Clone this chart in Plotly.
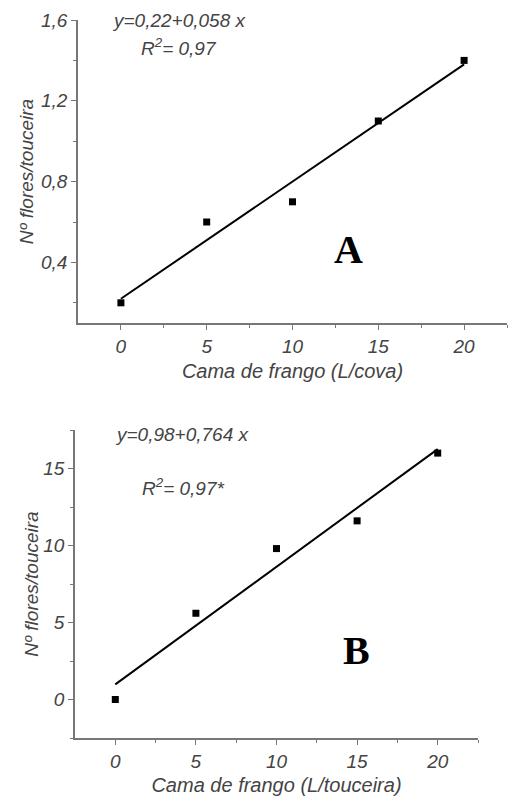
import plotly.graph_objects as go

# Data
doses = [0, 5, 10, 15, 20]
flores_a = [0.2, 0.6, 0.7, 1.1, 1.4]
flores_b = [0.0, 5.6, 9.8, 11.6, 16.0]
fit_a = (0.22, 0.058)   # intercept, slope
fit_b = (0.98, 0.764)
eq_a = "y=0,22+0,058 x"
r2_a = "R<sup>2</sup>= 0,97"
eq_b = "y=0,98+0,764 x"
r2_b = "R<sup>2</sup>= 0,97*"
xlabel_a = "Cama de frango (L/cova)"
xlabel_b = "Cama de frango (L/touceira)"
ylabel = "Nº flores/touceira"

W, H = 508, 796
def px(x): return x / W
def py(y): return 1 - y / H

TXT = "#444444"
AX = "#777777"
FONT = "Liberation Sans, Arial, sans-serif"

fig = go.Figure()
line_x = [doses[0], doses[-1]]
for (ys, fit, xa, ya) in [(flores_a, fit_a, "x", "y"), (flores_b, fit_b, "x2", "y2")]:
    fig.add_trace(go.Scatter(x=line_x, y=[fit[0] + fit[1] * v for v in line_x],
                             mode="lines", line=dict(color="black", width=2),
                             xaxis=xa, yaxis=ya, showlegend=False, hoverinfo="skip"))
    fig.add_trace(go.Scatter(x=doses, y=ys, mode="markers",
                             marker=dict(symbol="square", size=7, color="black"),
                             xaxis=xa, yaxis=ya, showlegend=False))

tickfont = dict(family=FONT, size=19, color=TXT, style="italic")
titlefont = dict(family=FONT, size=20, color=TXT, style="italic")
ytitlefont = dict(family=FONT, size=19, color=TXT, style="italic")
eqfont = dict(family=FONT, size=19, color=TXT, style="italic")

def xaxis(domain, anchor, title):
    return dict(domain=domain, anchor=anchor, range=[-2.5, 22.5], tickvals=[0, 5, 10, 15, 20],
                showline=True, linecolor=AX, linewidth=1.5, ticks="outside", ticklen=5,
                tickcolor=AX, tickwidth=1.2, showgrid=False, zeroline=False, automargin=False,
                minor=dict(tickvals=[2.5, 7.5, 12.5, 17.5, 22.5], ticklen=3, tickcolor=AX, ticks="outside"),
                tickfont=tickfont, title=dict(text=title, font=titlefont, standoff=8))

def yaxis(domain, anchor, rng, dtick, minor_dtick, fmt, standoff):
    return dict(domain=domain, anchor=anchor, range=rng, dtick=dtick, tick0=0,
                tickformat=fmt, showline=True, linecolor=AX, linewidth=1.5, ticks="outside",
                ticklen=5, tickcolor=AX, tickwidth=1.2, showgrid=False, zeroline=False, automargin=False,
                minor=dict(dtick=minor_dtick, tick0=0, ticklen=3, tickcolor=AX, ticks="outside"),
                tickfont=tickfont, title=dict(text=ylabel, font=ytitlefont, standoff=standoff))

fig.update_layout(
    width=W, height=H, margin=dict(l=0, r=0, t=0, b=0),
    paper_bgcolor="white", plot_bgcolor="white", separators=", ",
    xaxis=xaxis([px(78), px(507)], "y", xlabel_a),
    yaxis=yaxis([py(323), py(20)], "x", [0.1, 1.6], 0.4, 0.2, ".1f", 2),
    xaxis2=xaxis([px(75), px(478)], "y2", xlabel_b),
    yaxis2=yaxis([py(738), py(430)], "x2", [-2.5, 17.5], 5, 2.5, "d", 0),
)

def ann(text, x, y, font):
    fig.add_annotation(text=text, x=px(x), y=py(y), xref="paper", yref="paper",
                       showarrow=False, xanchor="center", yanchor="middle", font=font)

ann(eq_a, 179, 20, eqfont)
ann(r2_a, 179, 47, eqfont)
ann(eq_b, 182, 434, eqfont)
ann(r2_b, 183, 487, eqfont)
big = dict(family="Liberation Serif, Times New Roman, serif", size=40, color="black", weight="bold")
ann("<b>A</b>", 348, 250, big)
ann("<b>B</b>", 356, 650, big)

fig.write_html("out.html", config={"displayModeBar": False},
               post_script="document.body.style.margin='0';document.body.style.overflow='hidden';")
